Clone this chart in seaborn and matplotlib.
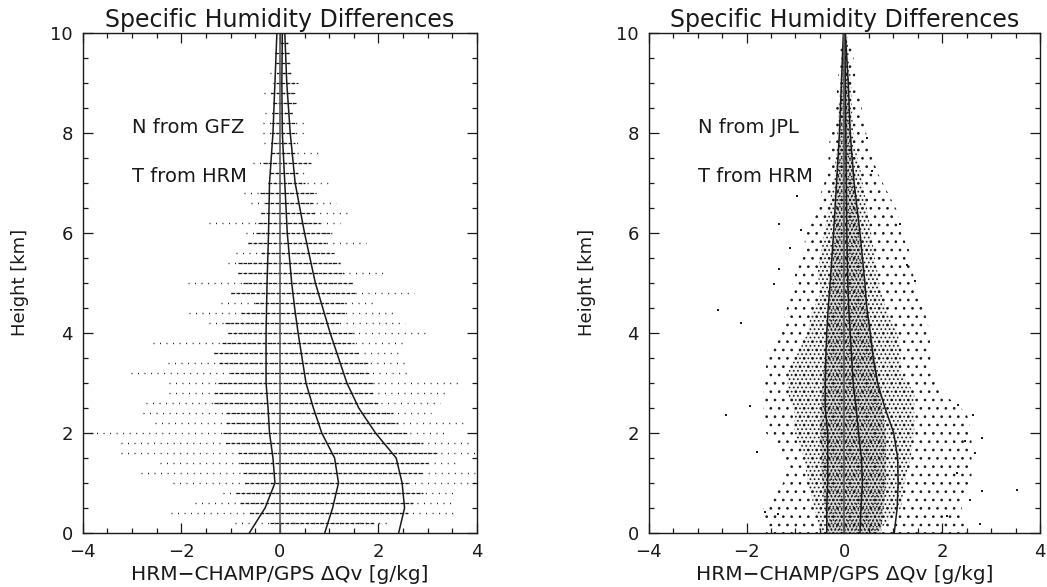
import numpy as np
import pandas as pd
import matplotlib
matplotlib.use("Agg")
import matplotlib.pyplot as plt
from matplotlib.ticker import MultipleLocator
import seaborn as sns

# ---------------- left panel: N from GFZ ----------------
# profile curves (lower, mean, upper)
gfz_h = [0, 0.5, 1.0, 1.5, 2.0, 2.5, 3.0, 3.5, 4.0, 4.5, 5.0, 6.0, 7.0, 8.0, 9.0, 10.0]
gfz_lo = [-0.62, -0.30, -0.10, -0.14, -0.21, -0.24, -0.28, -0.28, -0.28, -0.27, -0.26, -0.23, -0.21, -0.14, -0.10, -0.06]
gfz_mean = [0.91, 1.07, 1.19, 1.11, 0.85, 0.68, 0.53, 0.45, 0.37, 0.30, 0.24, 0.15, 0.10, 0.05, 0.04, 0.05]
gfz_hi = [2.41, 2.53, 2.48, 2.36, 1.94, 1.60, 1.36, 1.19, 1.02, 0.87, 0.72, 0.50, 0.31, 0.21, 0.14, 0.10]

# scatter rows (the GFZ points sit on fixed height levels)
gfz_lev = [0.2, 0.4, 0.6, 0.8, 1.0, 1.2, 1.4, 1.6, 1.8, 2.0,
           2.2, 2.4, 2.6, 2.8, 3.0, 3.2, 3.4, 3.6, 3.8, 4.0,
           4.2, 4.4, 4.6, 4.8, 5.0, 5.2, 5.4, 5.6, 5.8, 6.0,
           6.2, 6.4, 6.6, 6.8, 7.0, 7.2, 7.4, 7.6, 7.8, 8.0,
           8.2, 8.4, 8.6, 8.8, 9.0, 9.2, 9.4, 9.6, 9.8, 10.0]
# dense part of each row
gfz_dlo = [-0.20, -0.60, -0.80, -0.90, -0.70, -0.75, -0.80, -0.85, -1.10, -1.15,
           -1.10, -1.10, -1.33, -1.33, -1.26, -1.02, -1.23, -1.33, -1.17, -1.06,
           -1.12, -0.79, -0.50, -0.99, -0.75, -0.85, -0.85, -0.38, -0.65, -0.48,
           -0.45, -0.38, -0.31, -0.41, -0.24, -0.21, -0.35, -0.17, -0.14, -0.17,
           -0.17, -0.12, -0.13, -0.17, -0.07, -0.05, -0.07, -0.09, 0.00, -0.02]
gfz_dhi = [1.90, 2.60, 2.70, 2.90, 2.60, 2.90, 3.00, 3.20, 2.90, 2.60,
           2.40, 2.30, 2.00, 1.90, 1.90, 1.80, 1.80, 1.60, 1.50, 1.50,
           1.21, 1.35, 1.35, 1.55, 1.48, 1.31, 1.21, 1.10, 0.94, 1.01,
           0.81, 0.74, 0.67, 0.74, 0.50, 0.37, 0.64, 0.33, 0.30, 0.33,
           0.33, 0.25, 0.33, 0.30, 0.37, 0.25, 0.23, 0.20, 0.16, 0.08]
# full extent of each row (scattered outliers)
gfz_olo = [-0.92, -2.21, -1.73, -1.16, -2.17, -2.82, -2.44, -3.22, -3.22, -3.86,
           -2.54, -2.78, -2.71, -2.24, -2.24, -3.02, -2.27, -1.33, -2.58, -1.06,
           -1.43, -1.85, -1.19, -0.99, -1.87, -0.85, -1.06, -0.89, -0.65, -0.68,
           -1.44, -0.38, -0.58, -0.72, -0.24, -0.21, -0.55, -0.17, -0.32, -0.35,
           -0.35, -0.30, -0.13, -0.32, -0.14, -0.20, -0.10, -0.09, 0.00, -0.02]
gfz_ohi = [2.19, 3.51, 3.51, 3.55, 3.95, 3.95, 3.62, 3.95, 3.92, 3.38,
           3.76, 3.07, 3.24, 3.44, 3.65, 2.57, 2.63, 2.43, 2.57, 2.94,
           2.53, 2.29, 1.96, 2.73, 1.48, 2.19, 1.21, 1.10, 1.75, 1.14,
           1.21, 1.41, 1.14, 0.74, 0.97, 0.60, 0.64, 0.77, 0.37, 0.53,
           0.53, 0.33, 0.33, 0.33, 0.39, 0.25, 0.25, 0.28, 0.16, 0.08]

# ---------------- right panel: N from JPL ----------------
jpl_h = [0, 0.5, 1.0, 1.5, 2.0, 2.5, 3.0, 3.5, 4.0, 4.5, 5.0, 6.0, 7.0, 8.0, 9.0, 10.0]
jpl_lo = [-0.36, -0.36, -0.34, -0.34, -0.34, -0.39, -0.39, -0.38, -0.36, -0.33, -0.29, -0.22, -0.16, -0.10, -0.06, -0.02]
jpl_mean = [0.32, 0.34, 0.37, 0.35, 0.29, 0.24, 0.18, 0.15, 0.12, 0.09, 0.07, 0.05, 0.04, 0.03, 0.02, 0.01]
jpl_hi = [1.02, 1.08, 1.10, 1.09, 1.01, 0.83, 0.68, 0.59, 0.53, 0.46, 0.42, 0.32, 0.20, 0.12, 0.08, 0.02]

# envelope of the point cloud (sparse edge / dense part / black core)
cloud_h = [0.0, 0.5, 1.0, 1.5, 2.0, 2.4, 2.8, 3.2, 3.6, 4.0, 4.4, 4.8, 5.2,
           5.6, 6.0, 6.4, 6.8, 7.2, 7.8, 8.2, 8.6, 9.0, 9.4, 9.8, 10.0]
cloud_slo = [-1.60, -1.65, -1.25, -1.20, -1.60, -1.65, -1.65, -1.60, -1.60, -1.30, -1.20, -1.10, -1.00,
             -0.82, -0.80, -0.55, -0.48, -0.34, -0.31, -0.20, -0.17, -0.14, -0.10, -0.07, -0.03]
cloud_dlo = [-0.50, -0.61, -0.75, -0.82, -1.02, -1.02, -1.16, -1.16, -0.95, -0.75, -0.68, -0.48, -0.55,
             -0.48, -0.41, -0.34, -0.27, -0.20, -0.15, -0.14, -0.10, -0.08, -0.07, -0.03, -0.02]
cloud_dhi = [0.65, 1.16, 1.23, 1.36, 1.43, 1.43, 1.43, 1.16, 1.16, 1.09, 0.89, 0.75, 0.68,
             0.61, 0.55, 0.48, 0.41, 0.34, 0.20, 0.17, 0.15, 0.14, 0.10, 0.07, 0.05]
cloud_shi = [2.50, 2.40, 2.60, 2.60, 2.60, 2.50, 2.00, 1.80, 1.75, 1.75, 1.65, 1.50, 1.40,
             1.35, 1.16, 1.10, 0.89, 0.68, 0.48, 0.41, 0.34, 0.24, 0.20, 0.14, 0.08]
core_h = [0, 1, 2, 3, 4, 5, 6, 7, 8, 9, 10]
core_lo = [-0.35, -0.45, -0.50, -0.45, -0.35, -0.28, -0.20, -0.15, -0.10, -0.06, -0.02]
core_hi = [0.75, 0.85, 0.85, 0.70, 0.55, 0.40, 0.30, 0.20, 0.12, 0.08, 0.03]

# isolated points outside the cloud
out_x = [-2.58, -2.12, -2.42, -1.93, 3.53, 2.81, 2.81, 2.64, 2.47, 2.67, 2.57, 2.30, 2.09, 2.77,
         2.33, -1.62, -1.79, -1.35, -0.97, -1.33, -0.89, -1.11, -1.33, -1.44, 1.28, 1.45, 1.14,
         0.46, 0.56]
out_y = [4.46, 4.19, 2.35, 2.53, 0.86, 0.83, 1.89, 2.36, 1.83, 1.59, 0.66, 1.19, 0.33, 0.17,
         2.56, 0.41, 1.61, 0.38, 6.73, 6.17, 6.05, 5.69, 5.27, 4.98, 5.36, 5.03, 6.18,
         7.89, 7.23]

sns.set_theme(style="ticks", rc={'text.color': 'k', 'axes.labelcolor': 'k',
                                 'xtick.color': 'k', 'ytick.color': 'k'})
plt.rcParams['font.family'] = ['DejaVu Sans']
plt.rcParams['hatch.linewidth'] = 0.7

fig = plt.figure(figsize=(10.47, 5.87), dpi=100)
ax1 = fig.add_axes([0.079, 0.092, 0.3766, 0.852])
ax2 = fig.add_axes([0.6196, 0.092, 0.3737, 0.852])

# left: rows of points
ax1.hlines(gfz_lev, gfz_olo, gfz_ohi, colors='k', linestyles=(0, (0.7, 4)), lw=1.0)
ax1.hlines(gfz_lev, gfz_dlo, gfz_dhi, colors='k', linestyles=(0, (3, 1)), lw=0.9)

gfz = pd.DataFrame({'h': gfz_h, 'lo': gfz_lo, 'mean': gfz_mean, 'hi': gfz_hi})
for col in ['lo', 'mean', 'hi']:
    sns.lineplot(data=gfz, x=col, y='h', orient='y', sort=False, estimator=None,
                 color='k', lw=1.1, ax=ax1)

# right: point cloud (stippled bands, darker towards the middle)
ax2.fill_betweenx(cloud_h, cloud_slo, cloud_shi, facecolor='none', edgecolor='k',
                  hatch='..', linewidth=0)
ax2.fill_betweenx(cloud_h, cloud_dlo, cloud_dhi, facecolor=(0, 0, 0, 0.05), edgecolor='k',
                  hatch='....', linewidth=0)
ax2.fill_betweenx(core_h, core_lo, core_hi, facecolor=(0, 0, 0, 0.10), edgecolor='k',
                  hatch='.....', linewidth=0)
sns.scatterplot(x=out_x, y=out_y, color='k', s=3, marker='s', linewidth=0, ax=ax2)

jpl = pd.DataFrame({'h': jpl_h, 'lo': jpl_lo, 'mean': jpl_mean, 'hi': jpl_hi})
for col in ['lo', 'mean', 'hi']:
    sns.lineplot(data=jpl, x=col, y='h', orient='y', sort=False, estimator=None,
                 color='k', lw=1.1, ax=ax2)

for ax, src in [(ax1, 'GFZ'), (ax2, 'JPL')]:
    ax.axvline(0, color='0.35', lw=1.2)
    ax.set_xlim(-4, 4)
    ax.set_ylim(0, 10)
    ax.xaxis.set_major_locator(MultipleLocator(2))
    ax.xaxis.set_minor_locator(MultipleLocator(0.5))
    ax.yaxis.set_major_locator(MultipleLocator(2))
    ax.yaxis.set_minor_locator(MultipleLocator(0.5))
    ax.tick_params(which='both', direction='in', top=True, right=True, width=0.9,
                   colors='k', labelsize=13, pad=7)
    ax.tick_params(which='major', length=7)
    ax.tick_params(which='minor', length=3.5)
    for sp in ax.spines.values():
        sp.set_visible(True)
        sp.set_linewidth(1.0)
        sp.set_color('k')
    ax.set_title("Specific Humidity Differences", fontsize=17, pad=4)
    ax.set_xlabel("HRM\u2212CHAMP/GPS \u0394Qv [g/kg]", fontsize=14.5)
    ax.set_ylabel("Height [km]", fontsize=13)
    ax.xaxis.set_label_coords(0.5, -0.064)
    ax.yaxis.set_label_coords(-0.136, 0.5)
    ax.text(-3.0, 8.1, "N from " + src, fontsize=14, va='center', ha='left')
    ax.text(-3.0, 7.13, "T from HRM", fontsize=14, va='center', ha='left')

fig.savefig("out.png", dpi=100)
